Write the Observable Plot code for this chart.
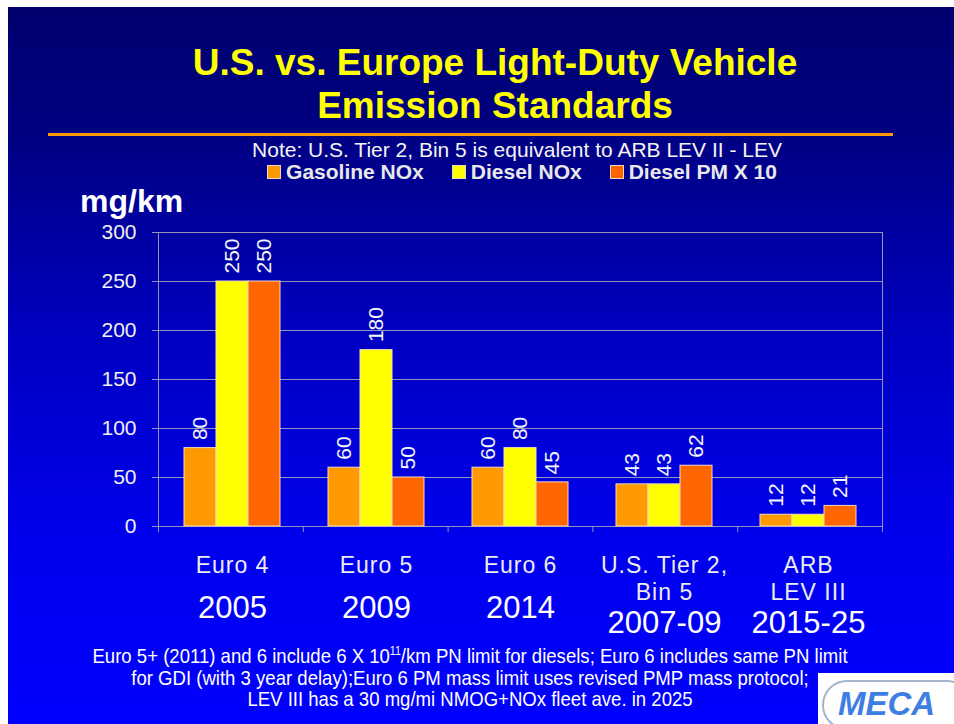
<!DOCTYPE html>
<html>
<head>
<meta charset="utf-8">
<script src="https://cdn.jsdelivr.net/npm/d3@7"></script>
<script src="https://cdn.jsdelivr.net/npm/@observablehq/plot@0.6"></script>
<style>
  body { margin: 0; background: #fff; font-family: "Liberation Sans", Arial, sans-serif; }
  #page { position: relative; width: 954px; height: 724px; overflow: hidden; background: #fff; }
  #slide { position: absolute; left: 8px; top: 7px; right: 0; bottom: 0;
           background: linear-gradient(#000070 0%, #000080 17%, #0000c0 45%, #0000ee 75%, #0000ff 100%); }
  .abs { position: absolute; }
  #title { left: 95px; width: 800px; top: 41px; text-align: center; color: #ffff00;
           font-weight: bold; font-size: 37px; line-height: 43px; }
  #rule { left: 48px; width: 845px; top: 133px; height: 3px; background: #ff9900; }
  #note { left: 217px; width: 600px; top: 138px; text-align: center; color: #f4f4f4;
          font-size: 21px; line-height: 24px; white-space: nowrap; }
  #legend { left: 222px; width: 600px; top: 160px; display: flex; justify-content: center;
            gap: 28px; color: #e8e8e8; font-weight: bold; font-size: 21px; line-height: 24px; }
  .li { display: flex; align-items: center; gap: 5px; }
  .sw { width: 12px; height: 12px; border: 1px solid #f0d8c0; }
  #unit { left: 80px; top: 183px; color: #fff; font-weight: bold; font-size: 32px; line-height: 36px; }
  .plot { position: absolute; left: 0; top: 200px; }
  .plot text.cat { letter-spacing: 1px; }
  #foot { left: 20px; width: 900px; top: 645px; text-align: center; color: #fff;
          font-family: "Liberation Sans", Arial, sans-serif;
          font-size: 21px; line-height: 21.5px; transform: scaleX(0.884); transform-origin: 450px 0; white-space: nowrap; }
  #foot sup { font-size: 12px; line-height: 0; vertical-align: 8px; }
  #logo { left: 818px; top: 673px; width: 136px; height: 51px; background: #fff; overflow: hidden; }
  #logo .ring { position: absolute; left: 4px; top: 7px; width: 150px; height: 50px; border: 2px solid #a4b4d0;
                border-radius: 25px; box-sizing: border-box; }
  #logo .txt { position: absolute; left: 20px; top: 13px; font-weight: bold; font-style: italic;
               font-size: 33px; line-height: 36px; color: #3d7ee2; letter-spacing: 0px; }
</style>
</head>
<body>
<div id="page">
  <div id="slide"></div>
  <div id="title" class="abs">U.S. vs. Europe Light-Duty Vehicle<br>Emission Standards</div>
  <div id="rule" class="abs"></div>
  <div id="note" class="abs">Note: U.S. Tier 2, Bin 5 is equivalent to ARB LEV II - LEV</div>
  <div id="legend" class="abs"></div>
  <div id="unit" class="abs">mg/km</div>
  <div id="chart"></div>
  <div id="foot" class="abs">Euro 5+ (2011) and 6 include 6 X 10<sup>11</sup>/km PN limit for diesels; Euro 6 includes same PN limit<br>for GDI (with 3 year delay);Euro 6 PM mass limit uses revised PMP mass protocol;<br>LEV III has a 30 mg/mi NMOG+NOx fleet ave. in 2025</div>
  <div id="logo" class="abs"><div class="ring"></div><div class="txt">MECA</div></div>
</div>
<script>
// ---- data ----
const categories = ["Euro 4", "Euro 5", "Euro 6", "U.S. Tier 2,\nBin 5", "ARB\nLEV III"];
const years = ["2005", "2009", "2014", "2007-09", "2015-25"];
const series = ["Gasoline NOx", "Diesel NOx", "Diesel PM X 10"];
const gasolineNOx = [80, 60, 60, 43, 12];
const dieselNOx = [250, 180, 80, 43, 12];
const dieselPMx10 = [250, 50, 45, 62, 21];
const seriesColors = ["#ff9900", "#ffff00", "#ff6600"];
const yTicks = [0, 50, 100, 150, 200, 250, 300];

// ---- build table ----
const seriesValues = [gasolineNOx, dieselNOx, dieselPMx10];
const rows = categories.flatMap((c, i) => series.map((s, j) => ({category: c, series: s, value: seriesValues[j][i]})));
const catRows = categories.map((c, i) => ({category: c, label: c, year: years[i], multi: c.includes("\n")}));

// legend
const legend = document.getElementById("legend");
series.forEach((s, j) => {
  const it = document.createElement("div"); it.className = "li";
  const sw = document.createElement("div"); sw.className = "sw"; sw.style.background = seriesColors[j];
  const tx = document.createElement("span"); tx.textContent = s;
  it.appendChild(sw); it.appendChild(tx); legend.appendChild(it);
});

const W = 954, H = 450;
const dims = {width: W, height: H, marginLeft: 158, marginRight: 72, marginTop: 32, marginBottom: 124};
const font = "Liberation Sans, Arial, sans-serif";
const grey = "#9494b8";

const back = Plot.plot({
  ...dims,
  style: {background: "transparent", fontFamily: font, overflow: "visible"},
  x: {domain: [0, categories.length], axis: null},
  y: {domain: [0, 300], axis: null},
  marks: [
    Plot.gridY(yTicks, {stroke: grey, strokeOpacity: 1, strokeWidth: 1}),
    Plot.ruleX([0, categories.length], {stroke: grey}),
    Plot.ruleY([0], {stroke: grey}),
    Plot.axisX(d3.range(categories.length + 1), {tickSize: 6, tickFormat: () => "", stroke: grey}),
    Plot.axisY(yTicks, {tickSize: 6, tickPadding: 16, stroke: grey, fill: "#f0f0f0", fontSize: 21, label: null})
  ]
});

const bars = Plot.plot({
  ...dims,
  style: {background: "transparent", fontFamily: font, overflow: "visible"},
  fx: {domain: categories, padding: 0, axis: null},
  x: {domain: series, paddingInner: 0, paddingOuter: 0.74, axis: null},
  y: {domain: [0, 300], axis: null},
  color: {domain: series, range: seriesColors},
  marks: [
    Plot.barY(rows, {fx: "category", x: "series", y: "value", fill: "series", stroke: "#f3d9c0", strokeWidth: 1}),
    Plot.text(rows, {fx: "category", x: "series", y: "value", text: d => String(d.value), rotate: -90,
                     textAnchor: "start", dy: -8, fill: "#f4f4f4", fontSize: 21}),
    Plot.text(catRows, {fx: "category", frameAnchor: "bottom", text: "label", lineAnchor: "top", dy: 27,
                        lineHeight: 1.17, fontSize: 23, fill: "#ececec", className: "cat"}),
    Plot.text(catRows, {filter: d => !d.multi, fx: "category", frameAnchor: "bottom", text: "year",
                        lineAnchor: "bottom", dy: 91, fontSize: 31, fill: "#ffffff"}),
    Plot.text(catRows, {filter: d => d.multi, fx: "category", frameAnchor: "bottom", text: "year",
                        lineAnchor: "bottom", dy: 106, fontSize: 31, fill: "#ffffff"})
  ]
});

back.classList.add("plot");
bars.classList.add("plot");
bars.querySelectorAll("g.cat text, text.cat").forEach(t => t.style.letterSpacing = "1px");
const page = document.getElementById("page");
page.insertBefore(back, document.getElementById("foot"));
page.insertBefore(bars, document.getElementById("foot"));
</script>
</body>
</html>
